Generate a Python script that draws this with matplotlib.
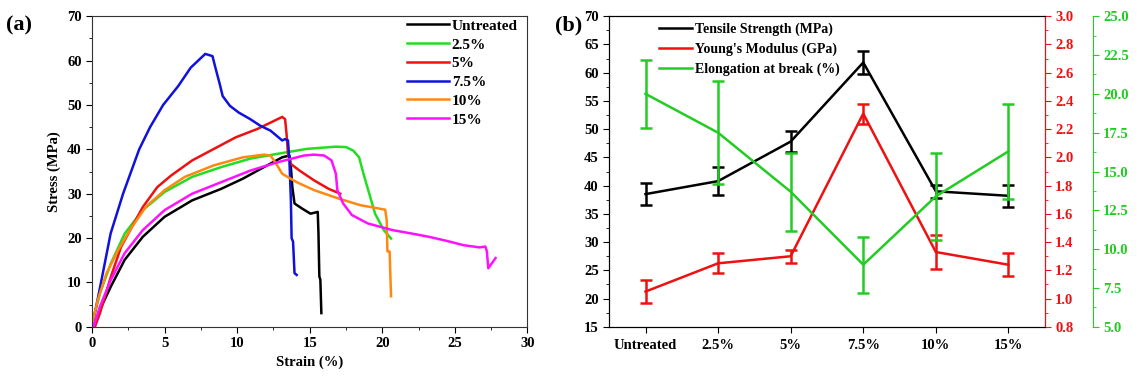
import matplotlib
matplotlib.use('Agg')
import matplotlib.pyplot as plt
from matplotlib.ticker import MultipleLocator
from matplotlib.lines import Line2D

plt.rcParams['font.family'] = ['Liberation Serif', 'DejaVu Serif']
plt.rcParams['font.weight'] = 'bold'

# ---- (a) stress-strain curves ----
untreated_x = [0.1, 0.55, 1.3, 2.25, 3.5, 5.0, 6.9, 8.9, 10.4, 11.85, 13.1, 13.6, 13.7, 13.8, 13.95,
               14.45, 15.05, 15.55, 15.6, 15.66, 15.73, 15.8]
untreated_y = [0, 3.9, 9.1, 15.1, 20.3, 24.8, 28.5, 31.1, 33.4, 36.0, 38.2, 38.6, 36.0, 31.5, 27.8,
               26.7, 25.5, 25.9, 21.1, 11.4, 10.6, 3.1]

p25_x = [0.0, 0.55, 1.3, 2.25, 3.5, 5.0, 6.9, 8.9, 10.9, 12.8, 14.8, 16.8, 17.5, 18.0, 18.4,
         18.7, 19.1, 19.5, 20.1, 20.6]
p25_y = [0.5, 7.6, 14.3, 21.0, 26.3, 30.4, 33.8, 36.0, 37.9, 39.0, 40.1, 40.6, 40.5, 39.7, 38.2,
         34.5, 30.0, 25.5, 21.8, 19.9]

p5_x = [0.2, 0.55, 1.3, 2.0, 2.75, 3.5, 4.5, 5.45, 6.9, 8.4, 9.9, 11.4, 12.6, 13.1, 13.3, 13.4,
        13.5, 13.7, 14.3, 15.3, 16.3, 17.1]
p5_y = [0, 3.1, 11.3, 18.0, 22.5, 27.0, 31.5, 34.1, 37.5, 40.1, 42.7, 44.6, 46.5, 47.3, 46.8, 43.5,
        39.0, 36.7, 35.2, 33.0, 31.1, 30.0]

p75_x = [0.0, 0.5, 1.28, 2.14, 3.25, 4.0, 4.9, 5.95, 6.8, 7.8, 8.3, 8.5, 8.8, 9.0, 9.5, 10.1, 10.9,
         11.6, 12.3, 12.7, 13.1, 13.3, 13.5, 13.6, 13.7, 13.75, 13.85, 13.95, 14.1]
p75_y = [0, 8.0, 21.0, 30.0, 40.0, 45.0, 50.0, 54.3, 58.4, 61.5, 61.0, 58.4, 54.7, 52.0, 49.8, 48.3,
         46.8, 45.3, 44.2, 43.1, 42.0, 42.3, 42.0, 37.5, 28.5, 20.0, 19.2, 12.1, 11.7]

p10_x = [0.0, 0.4, 1.0, 1.8, 2.75, 3.7, 5.0, 6.4, 8.4, 10.4, 11.85, 12.3, 12.7, 13.1, 14.1, 15.3,
         17.0, 18.5, 19.2, 20.2, 20.3, 20.35, 20.5, 20.6]
p10_y = [0.5, 6.1, 12.1, 17.3, 22.5, 27.0, 30.8, 33.8, 36.4, 38.2, 38.8, 38.6, 36.7, 34.5, 32.6, 30.8,
         28.9, 27.4, 27.0, 26.4, 24.0, 17.0, 17.0, 6.9]

p15_x = [0.1, 0.55, 1.3, 2.25, 3.5, 5.0, 6.9, 8.9, 10.9, 12.8, 14.6, 15.3, 16.0, 16.5, 16.8, 16.9,
         17.3, 17.9, 19.0, 20.7, 21.9, 23.2, 24.4, 25.6, 26.7, 27.1, 27.2, 27.3, 27.8]
p15_y = [0, 4.6, 10.6, 16.6, 21.8, 26.3, 30.0, 32.6, 35.2, 37.1, 38.6, 38.8, 38.6, 37.5, 34.5, 30.8,
         27.8, 25.2, 23.3, 21.8, 21.1, 20.3, 19.4, 18.4, 17.9, 18.1, 17.0, 13.2, 15.5]

# ---- (b) mechanical properties ----
samples = ['Untreated', '2.5%', '5%', '7.5%', '10%', '15%']
tensile = [38.5, 40.8, 47.8, 61.8, 39.0, 38.2]
tensile_err = [2.0, 2.5, 1.9, 2.1, 1.2, 2.0]
modulus = [1.05, 1.25, 1.30, 2.31, 1.33, 1.24]
modulus_err = [0.08, 0.07, 0.045, 0.07, 0.12, 0.08]
elong = [20.0, 17.5, 13.7, 9.0, 13.4, 16.3]
elong_err = [2.2, 3.3, 2.5, 1.8, 2.8, 3.05]

fig = plt.figure(figsize=(11.43, 3.85), dpi=100)

ax1 = fig.add_axes([0.0805, 0.151, 0.381, 0.807])
curves = [(untreated_x, untreated_y, 'black', 'Untreated'),
          (p25_x, p25_y, '#22dd22', '2.5%'),
          (p5_x, p5_y, '#ee1111', '5%'),
          (p75_x, p75_y, '#1111dd', '7.5%'),
          (p10_x, p10_y, '#ff8811', '10%'),
          (p15_x, p15_y, '#ff11ff', '15%')]
for xs, ys, c, lab in curves:
    ax1.plot(xs, ys, color=c, lw=1.8, label=lab)
ax1.set_xlim(0, 30)
ax1.set_ylim(0, 70)
ax1.xaxis.set_major_locator(MultipleLocator(5))
ax1.xaxis.set_minor_locator(MultipleLocator(2.5))
ax1.yaxis.set_major_locator(MultipleLocator(10))
ax1.yaxis.set_minor_locator(MultipleLocator(5))
ax1.tick_params(which='both', direction='out', labelsize=10.5)
ax1.tick_params(which='major', length=4)
ax1.tick_params(which='minor', length=2.5)
ax1.set_xlabel('Strain (%)', fontsize=10.5, fontweight='bold')
ax1.set_ylabel('Stress (MPa)', fontsize=10.5, fontweight='bold')
for s in ax1.spines.values():
    s.set_color('#333333')
ax1.legend(loc='upper right', frameon=False, fontsize=11, handlelength=2.7,
           labelspacing=0.33, handletextpad=0.2, borderaxespad=0.1,
           bbox_to_anchor=(0.995, 1.015))
fig.text(0.005, 0.92, '(a)', fontsize=16, fontweight='bold')

# panel b
ax2 = fig.add_axes([0.533, 0.151, 0.381, 0.807])
x = list(range(len(samples)))
ax2.errorbar(x, tensile, yerr=tensile_err, color='black', lw=1.8, capsize=4, capthick=1.8,
             elinewidth=1.8)
ax2.set_xlim(-0.5, 5.5)
ax2.set_ylim(15, 70)
ax2.yaxis.set_major_locator(MultipleLocator(5))
ax2.yaxis.set_minor_locator(MultipleLocator(2.5))
ax2.set_xticks(x)
ax2.set_xticklabels(samples)
ax2.tick_params(which='both', direction='out', labelsize=10.5)
ax2.tick_params(axis='x', length=0, pad=5)
ax2.tick_params(which='major', length=4)
ax2.tick_params(which='minor', length=2.5)

ax3 = ax2.twinx()
ax3.errorbar(x, modulus, yerr=modulus_err, color='#ee1111', lw=1.8, capsize=4, capthick=1.8,
             elinewidth=1.8)
ax3.set_ylim(0.8, 3.0)
ax3.yaxis.set_major_locator(MultipleLocator(0.2))
ax3.yaxis.set_minor_locator(MultipleLocator(0.1))
ax3.yaxis.set_major_formatter('{x:.1f}')
ax3.tick_params(which='both', direction='out', colors='#ee1111', labelsize=10.5)
ax3.tick_params(which='major', length=4)
ax3.tick_params(which='minor', length=2.5)
ax3.spines['right'].set_color('#ee1111')

ax4 = ax2.twinx()
ax4.spines['right'].set_position(('axes', 1.11))
ax4.errorbar(x, elong, yerr=elong_err, color='#22cc22', lw=1.8, capsize=4, capthick=1.8,
             elinewidth=1.8)
ax4.set_ylim(5, 25)
ax4.yaxis.set_major_locator(MultipleLocator(2.5))
ax4.yaxis.set_minor_locator(MultipleLocator(1.25))
ax4.yaxis.set_major_formatter('{x:.1f}')
ax4.tick_params(which='both', direction='out', colors='#22cc22', labelsize=10.5)
ax4.tick_params(which='major', length=4)
ax4.tick_params(which='minor', length=2.5)
ax4.spines['right'].set_color('#22cc22')
for s in ['top', 'left', 'bottom']:
    ax4.spines[s].set_visible(False)

handles = [Line2D([], [], color='black', lw=1.8), Line2D([], [], color='#ee1111', lw=1.8),
           Line2D([], [], color='#22cc22', lw=1.8)]
ax4.legend(handles, ['Tensile Strength (MPa)', "Young's Modulus (GPa)", 'Elongation at break (%)'],
           loc='upper left', bbox_to_anchor=(0.095, 1.005), frameon=False, fontsize=10,
           handlelength=2.4, labelspacing=0.45, handletextpad=0.2, borderaxespad=0.2)
fig.text(0.486, 0.92, '(b)', fontsize=16, fontweight='bold')

plt.savefig('out.png', dpi=100)
